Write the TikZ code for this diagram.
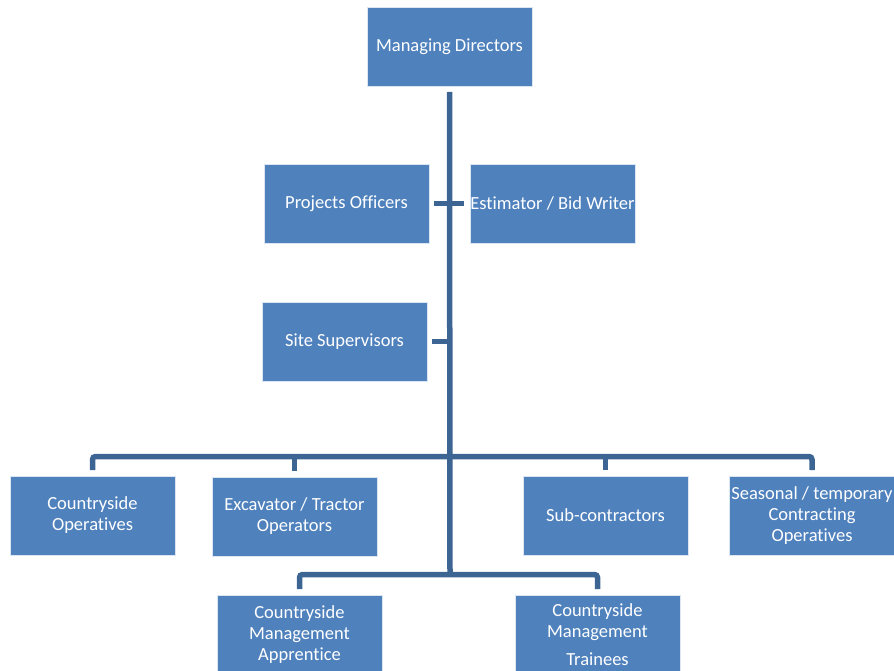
\documentclass[tikz,border=0pt]{standalone}
\usepackage{fontspec}
\setmainfont{Carlito}[Ligatures=CommonOff]
\usepackage{xcolor}
\usepackage{tikz}
\usetikzlibrary{positioning,calc}

\definecolor{boxblue}{HTML}{4F81BD}
\definecolor{boxedge}{HTML}{DCE6F2}
\definecolor{linkblue}{HTML}{3D6594}
\newcommand{\orgfont}{\fontsize{18.5}{21}\selectfont}

\tikzset{
    unit/.style={rectangle, fill=boxblue, draw=boxedge, line width=0.6pt,
        minimum width=165pt, minimum height=79pt, text width=165pt,
        inner sep=0pt, outer sep=0pt, align=flush center, text=white, font=\orgfont},
    link/.style={draw=linkblue, line width=5.5pt}
}

\begin{document}
\begin{tikzpicture}[x=1pt,y=-1pt]
    \useasboundingbox (0,0) rectangle (894,671);

    \node[unit] (md) at (449.5,46.5) {Managing Directors};
    \node[unit] (po) at (346.5,203.5) {Projects Officers};
    \node[unit] (est) at (552.5,203.5) {\mbox{Estimator / Bid Writer}};
    \node[unit] (ss) at (344.5,341.5) {Site Supervisors};

    \node[unit] (cops) at (92.5,515.5) {Countryside\\Operatives};
    \node[unit] (exc) at (294.5,516.5) {Excavator / Tractor\\Operators};
    \node[unit] (sub) at (605.5,515.5) {Sub-contractors};
    \node[unit] (seas) at (812,515.5) {\mbox{Seasonal / temporary}\\Contracting\\Operatives};

    \node[unit] (appr) at (299.5,634.5) {Countryside\\Management\\Apprentice};
    \node[unit] (trn) at (597.5,634.5) {Countryside\\Management\\[7pt]Trainees};

    \coordinate (bus) at (450,456.5);
    \coordinate (lowbus) at (450,574.5);

    \draw[link] ([yshift=-6pt]md.south) -- (lowbus);
    \draw[link] ([xshift=5pt]po.east) -- ([xshift=-6pt]est.west);
    \draw[link] ([xshift=5pt]ss.east) -- (ss.east -| bus);
    \draw[link, rounded corners=3pt] ([yshift=6pt]cops.north) |- (bus) -| ([yshift=6pt]seas.north);
    \draw[link] ([yshift=6pt]exc.north) -- (exc.north |- bus);
    \draw[link] ([yshift=6pt]sub.north) -- (sub.north |- bus);
    \draw[link, rounded corners=3pt] ([yshift=6pt]appr.north) |- (lowbus) -| ([yshift=6pt]trn.north);
\end{tikzpicture}
\end{document}
